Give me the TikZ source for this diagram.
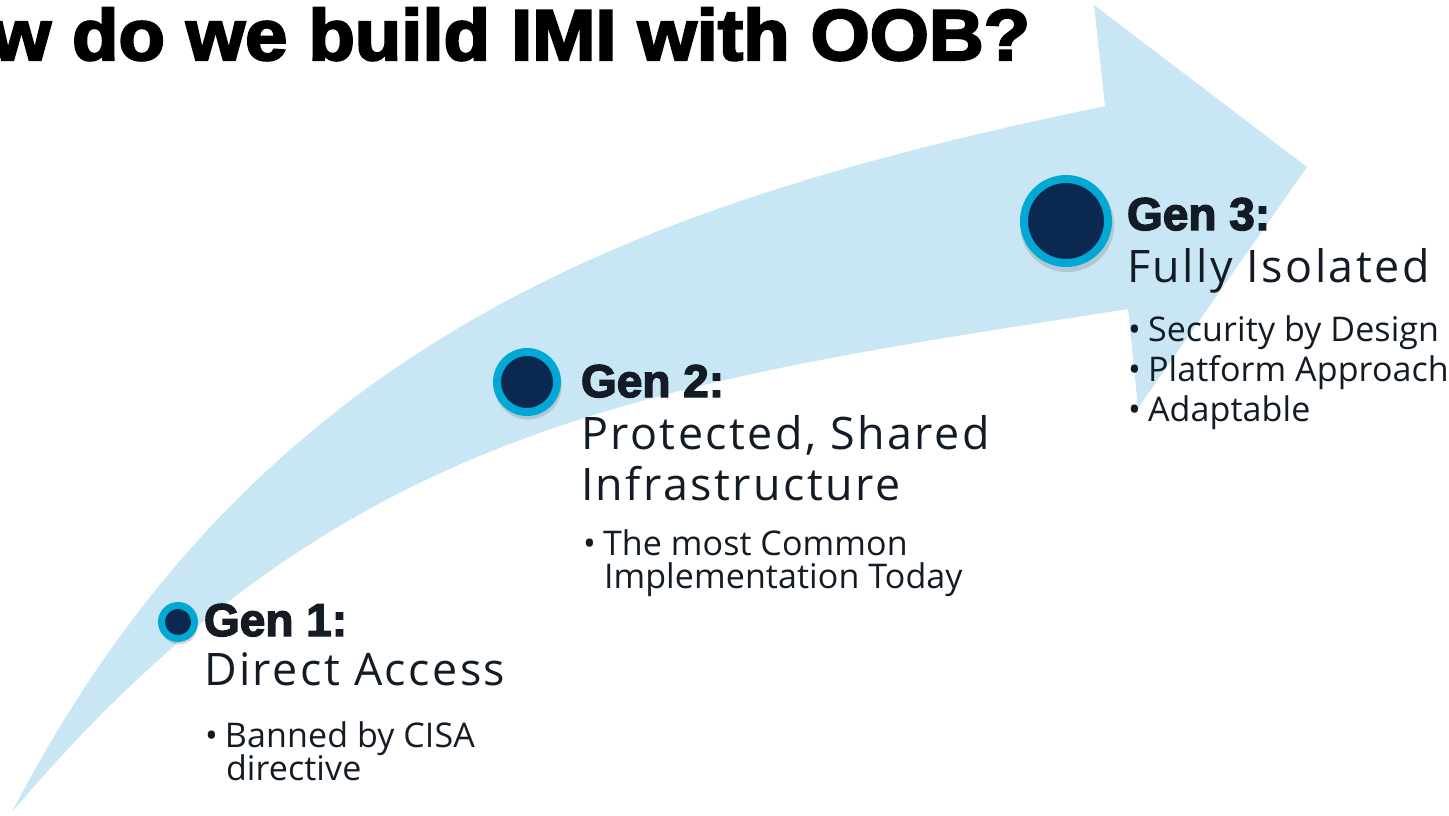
\documentclass[tikz,border=0pt]{standalone}
\usepackage{fontspec}
\setmainfont{Open Sans}[LetterSpace=5.5]
\newfontfamily\itemfont{Open Sans}[LetterSpace=0.3]
\newfontfamily\heavyfont{Liberation Sans Bold}[FakeBold=3]
\usetikzlibrary{calc,positioning,shadows}
\definecolor{bandblue}{HTML}{C9E6F4}
\definecolor{ringblue}{HTML}{00A8D4}
\definecolor{navy}{HTML}{0B2850}
\definecolor{ink}{HTML}{131B24}
\tikzstyle{every node}+=[text=ink,inner sep=0pt,outer sep=0pt]
\tikzstyle{genring}=[circle,draw=ringblue,fill=navy,line width=4pt,
  drop shadow={opacity=0.3,shadow xshift=0.5pt,shadow yshift=-1.8pt,shadow scale=1.12}]
\tikzstyle{genhead}=[anchor=base west,font=\heavyfont\fontsize{23}{23}\selectfont]
\tikzstyle{genname}=[anchor=base west,font=\fontsize{22.4}{24}\selectfont]
\tikzstyle{genitem}=[anchor=base west,font=\itemfont\fontsize{17}{18}\selectfont]
\newcommand{\bulletline}[1]{\makebox[10pt][l]{\textbullet}#1}

\begin{document}
\begin{tikzpicture}[x=0.5pt,y=-0.5pt]
\useasboundingbox (0,0) rectangle (1449,815);
% the curved arrow
\fill[bandblue] (12,812) .. controls (262,330) and (655,200) .. (1105,106)
  -- (1094,5) -- (1307,167) -- (1138,408) -- (1128,309)
  .. controls (640,385) and (340,425) .. (12,812) -- cycle;

% title
\node[anchor=base east,text=black,font=\heavyfont\fontsize{36}{36}\selectfont] (title) at (1030,60) {\scalebox{1.055}[1]{w do we build IMI with OOB?}};

% Gen 1
\node[genring,minimum size=16.5pt,line width=3.5pt] (g1) at (178,622) {};
\node[genhead] (g1head) at (204,636) {Gen 1:};
\node[genname] (g1name) at ($(g1head.base west)+(0,49)$) {Direct Access};
\node[genitem] (g1a) at ($(g1name.base west)+(1,62)$) {\bulletline{Banned by CISA}};
\node[genitem] (g1b) at ($(g1a.base west)+(21,33)$) {directive};

% Gen 2
\node[genring,minimum size=30pt] (g2) at (527,382) {};
\node[genhead] (g2head) at (581,397) {Gen 2:};
\node[genname] (g2name) at ($(g2head.base west)+(0,52)$) {Protected, Shared};
\node[genname] (g2name2) at ($(g2name.base west)+(0,51)$) {Infrastructure};
\node[genitem] (g2a) at ($(g2name2.base west)+(2,55)$) {\bulletline{The most Common}};
\node[genitem] (g2b) at ($(g2a.base west)+(21,33)$) {Implementation Today};

% Gen 3
\node[genring,minimum size=42pt] (g3) at (1066,221) {};
\node[genhead] (g3head) at (1127,230) {Gen 3:};
\node[genname] (g3name) at ($(g3head.base west)+(0,52)$) {Fully Isolated};
\node[genitem] (g3a) at ($(g3name.base west)+(1,59)$) {\bulletline{Security by Design}};
\node[genitem] (g3b) at ($(g3a.base west)+(0,40)$) {\bulletline{Platform Approach}};
\node[genitem] (g3c) at ($(g3b.base west)+(0,40)$) {\bulletline{Adaptable}};
\end{tikzpicture}
\end{document}
